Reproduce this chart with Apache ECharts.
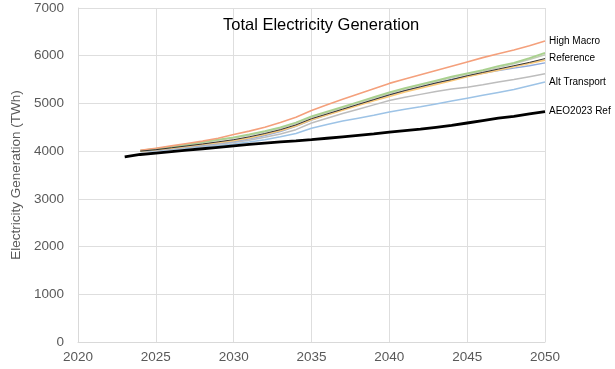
<!DOCTYPE html>
<html><head><meta charset="utf-8">
<script src="https://cdn.jsdelivr.net/npm/echarts@6/dist/echarts.min.js"></script>
<style>html,body{margin:0;padding:0;background:#fff}#c{width:615px;height:369px}</style>
</head><body><div id="c"></div>
<script>
const yearsAEO = [2023,2024,2025,2026,2027,2028,2029,2030,2031,2032,2033,2034,2035,2036,2037,2038,2039,2040,2041,2042,2043,2044,2045,2046,2047,2048,2049,2050];
const years = yearsAEO.slice(1);
const aeo2023Ref = [3880,3930,3960,3990,4020,4050,4080,4110,4140,4170,4195,4215,4240,4270,4300,4330,4360,4400,4430,4460,4500,4540,4590,4640,4690,4730,4780,4830];
const highMacro = [4020,4060,4110,4160,4210,4270,4350,4420,4500,4600,4710,4850,4970,5090,5200,5310,5420,5510,5600,5690,5780,5870,5960,6040,6120,6210,6310];
const greenScen = [4010,4050,4090,4140,4190,4240,4290,4350,4420,4500,4600,4730,4830,4930,5030,5130,5230,5320,5400,5480,5560,5630,5700,5780,5850,5950,6060];
const grayGreenScen = [4010,4045,4085,4130,4180,4230,4275,4335,4400,4480,4580,4710,4810,4910,5010,5110,5210,5300,5380,5460,5540,5610,5680,5750,5830,5920,6020];
const reference = [4000,4030,4070,4110,4150,4195,4240,4300,4370,4450,4550,4680,4780,4880,4980,5080,5180,5270,5350,5430,5500,5580,5650,5720,5790,5860,5940];
const yellowScen = [4000,4030,4065,4100,4140,4180,4220,4280,4350,4430,4530,4660,4760,4860,4960,5060,5150,5240,5320,5400,5480,5560,5630,5700,5770,5840,5910];
const purpleScen = [4000,4025,4055,4090,4125,4165,4200,4260,4330,4410,4520,4650,4760,4870,4970,5070,5170,5260,5340,5420,5500,5570,5630,5690,5740,5790,5850];
const altGray = [4000,4020,4050,4080,4110,4145,4180,4230,4290,4360,4450,4590,4690,4790,4880,4970,5060,5130,5190,5250,5300,5340,5390,5450,5500,5560,5620];
const altTransport = [3990,4010,4035,4060,4090,4120,4150,4190,4240,4300,4370,4480,4560,4630,4690,4750,4820,4880,4930,4990,5050,5110,5170,5230,5290,5370,5450];
const yTicks = [0,1000,2000,3000,4000,5000,6000,7000];
const xTicks = [2020,2025,2030,2035,2040,2045,2050];

const FF = 'Liberation Sans, Arial, sans-serif';
function pairs(xs, ys){ return ys.map((v,i)=>[xs[i], v]); }
function mk(name, xs, ys, color, width, label, z){
  const s = {name, type:'line', data:pairs(xs,ys), showSymbol:false, symbol:'none', smooth:false,
    lineStyle:{color, width}, itemStyle:{color}, z: z||2, animation:false};
  if(label){
    s.endLabel = {show:true, formatter:label, color:'#000', fontFamily:FF, fontSize:10, distance:4};
  }
  return s;
}
const chart = echarts.init(document.getElementById('c'), null, {renderer:'canvas'});
chart.setOption({
  animation:false,
  backgroundColor:'#fff',
  title:{text:'Total Electricity Generation', left:218, top:12,
    textStyle:{fontFamily:FF, fontSize:16.5, fontWeight:'normal', color:'#000'}},
  grid:{left:78, right:70, top:8, bottom:27, containLabel:false},
  xAxis:{type:'value', min:2020, max:2050, interval:5,
    axisLine:{show:true, lineStyle:{color:'#D9D9D9'}}, axisTick:{show:false},
    splitLine:{show:true, lineStyle:{color:'#DEDEDE', width:1}},
    axisLabel:{color:'#595959', fontSize:13.5, fontFamily:FF, margin:8,
      formatter:v=>xTicks.includes(v)?String(v):''}},
  yAxis:{type:'value', min:0, max:7000, interval:1000,
    name:'Electricity Generation (TWh)', nameLocation:'middle', nameGap:54, nameRotate:90,
    nameTextStyle:{color:'#595959', fontSize:13.5, fontFamily:FF},
    axisLine:{show:true, lineStyle:{color:'#D9D9D9'}}, axisTick:{show:false},
    splitLine:{show:true, lineStyle:{color:'#DEDEDE', width:1}},
    axisLabel:{color:'#595959', fontSize:13.5, fontFamily:FF, margin:14,
      formatter:v=>yTicks.includes(v)?String(v):''}},
  series:[
    mk('Alt Transport', years, altTransport, '#9DC3E6', 1.5, 'Alt Transport'),
    mk('Scenario (gray)', years, altGray, '#BDBDBD', 1.5),
    mk('Scenario (purple)', years, purpleScen, '#8FAADC', 1.5),
    mk('Scenario (yellow)', years, yellowScen, '#F9C97C', 1.8),
    mk('Scenario (gray-green)', years, grayGreenScen, '#C4CDB8', 1.5),
    mk('Scenario (green)', years, greenScen, '#A9D18E', 1.8),
    mk('Reference', years, reference, '#333', 1, 'Reference', 3),
    mk('High Macro', years, highMacro, '#F4A07C', 1.6, 'High Macro'),
    mk('AEO2023 Ref', yearsAEO, aeo2023Ref, '#000', 2.8, 'AEO2023 Ref', 4)
  ]
});
</script></body></html>
